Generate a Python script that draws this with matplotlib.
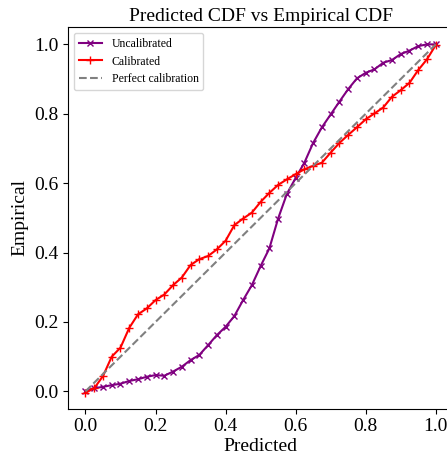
import matplotlib
matplotlib.use('Agg')
import matplotlib.pyplot as plt
import numpy as np

plt.rcParams['font.family'] = ['Liberation Serif', 'DejaVu Serif']

# predicted probabilities (41 bins)
pred = [i * 0.025 for i in range(41)]

uncal = [0.002, 0.009, 0.013, 0.018, 0.022, 0.030, 0.035, 0.042, 0.047, 0.045,
         0.057, 0.071, 0.090, 0.105, 0.133, 0.162, 0.186, 0.217, 0.263, 0.306,
         0.361, 0.412, 0.498, 0.569, 0.615, 0.659, 0.716, 0.761, 0.798, 0.835,
         0.871, 0.902, 0.918, 0.928, 0.947, 0.955, 0.972, 0.982, 0.995, 1.000,
         1.000]

cal = [-0.004, 0.009, 0.044, 0.100, 0.126, 0.183, 0.222, 0.239, 0.263, 0.279,
       0.306, 0.328, 0.364, 0.381, 0.390, 0.409, 0.434, 0.479, 0.498, 0.515,
       0.546, 0.572, 0.595, 0.611, 0.626, 0.640, 0.650, 0.659, 0.688, 0.716,
       0.739, 0.761, 0.784, 0.801, 0.818, 0.849, 0.868, 0.889, 0.926, 0.957,
       0.998]

fig = plt.figure(figsize=[4.47, 4.58], dpi=100)
ax = fig.add_axes([0.152, 0.1076, 0.862, 0.8334])

ax.plot(pred, uncal, marker='x', c='purple', lw=1.5, ms=4.5, label='Uncalibrated')
ax.plot(pred, cal, marker='+', c='red', lw=1.5, ms=5.5, label='Calibrated')
ax.plot([0, 1], [0, 1], '--', c='gray', lw=1.5, label='Perfect calibration')

ax.set_xlim(-0.05, 1.05)
ax.set_ylim(-0.05, 1.05)
ax.set_xticks([0, 0.2, 0.4, 0.6, 0.8, 1.0])
ax.set_yticks([0, 0.2, 0.4, 0.6, 0.8, 1.0])
ax.tick_params(labelsize=14)
ax.set_xlabel('Predicted', fontsize=14, labelpad=2)
ax.set_ylabel('Empirical', fontsize=14)
ax.set_title('Predicted CDF vs Empirical CDF', fontsize=14, pad=4)
ax.legend(loc='upper left', fontsize=8.5)

plt.savefig('out.png', dpi=100)
